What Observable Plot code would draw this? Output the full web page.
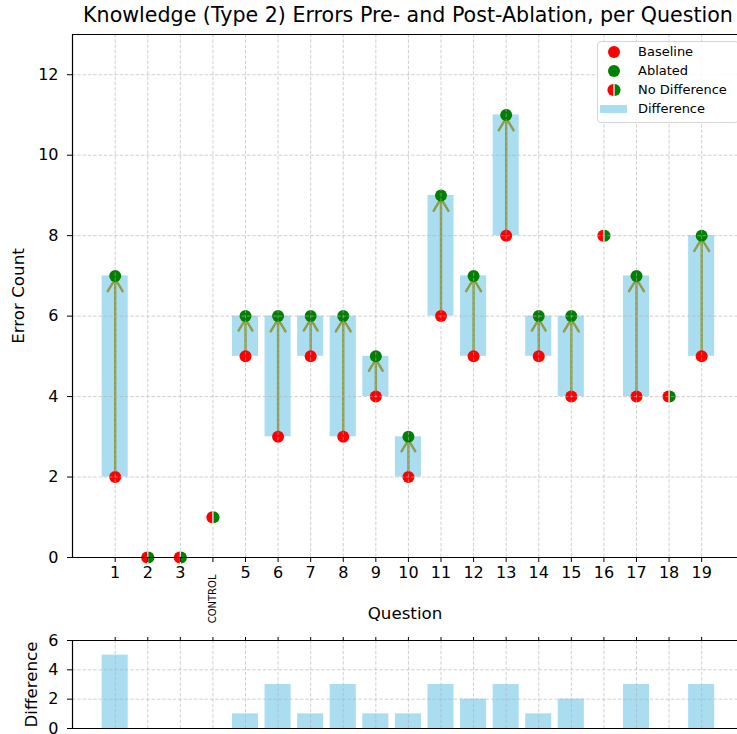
<!DOCTYPE html>
<html><head><meta charset="utf-8">
<script src="https://cdn.jsdelivr.net/npm/d3@7"></script>
<script src="https://cdn.jsdelivr.net/npm/@observablehq/plot@0.6"></script>
<style>
body{margin:0;background:#fff;font-family:"DejaVu Sans",sans-serif;color:#000;}
#wrap{position:relative;width:737px;height:734px;overflow:hidden;background:#fff;}
#title{position:absolute;top:5px;left:408px;transform:translateX(-50%);white-space:nowrap;font-size:20.6px;line-height:21px;}
#main{position:absolute;left:0;top:0;}
#bottom{position:absolute;left:0;top:630px;}
#legend{position:absolute;left:597px;top:41px;width:140px;height:80px;border:1px solid #d6d6d6;border-radius:4px;background:rgba(255,255,255,0.85);font-size:13px;}
.lg{position:absolute;left:0;width:140px;height:18px;}
.lg svg{position:absolute;left:0;top:0;}
.lg span{position:absolute;left:40px;top:0;line-height:18px;white-space:nowrap;}
</style></head><body>
<div id="wrap">
  <div id="main"></div>
  <div id="bottom"></div>
  <div id="title">Knowledge (Type 2) Errors Pre- and Post-Ablation, per Question</div>
  <div id="legend"></div>
</div>
<script>
// ---- data ----
const questions = [1,2,3,4,5,6,7,8,9,10,11,12,13,14,15,16,17,18,19];
const tickLabels = ["1","2","3","CONTROL","5","6","7","8","9","10","11","12","13","14","15","16","17","18","19"];
const baseline = [2,0,0,1,5,3,5,3,4,2,6,5,8,5,4,8,4,4,5];
const ablated  = [7,0,0,1,6,6,6,6,5,3,9,7,11,6,6,8,7,4,8];
const differences = [5,0,0,0,1,3,1,3,1,1,3,2,3,1,2,0,3,0,3];
const yTicksMain = [0,2,4,6,8,10,12];
const yTicksDiff = [0,2,4,6];
const legendLabels = ["Baseline","Ablated","No Difference","Difference"];

const rows = questions.map((q,i)=>({q, label: tickLabels[i], base: baseline[i], abl: ablated[i], diff: differences[i]}));
const changed = rows.filter(d=>d.abl!==d.base);
const same = rows.filter(d=>d.abl===d.base);

const xDomain = [-0.31, 20.1];
const barFill = "#87ceeb", barOpacity = 0.7;
const gridStyle = {stroke:"#b0b0b0", strokeOpacity:0.75, strokeWidth:0.8, strokeDasharray:"3.5,1.8"};
const spine = {stroke:"#000", strokeWidth:1.2};

const leftHalf = {draw(ctx, size){ const r=Math.sqrt(size/Math.PI); ctx.moveTo(-0.6,-r); ctx.arc(-0.6,0,r,-Math.PI/2,Math.PI/2,true); ctx.closePath(); }};
const rightHalf = {draw(ctx, size){ const r=Math.sqrt(size/Math.PI); ctx.moveTo(0.6,-r); ctx.arc(0.6,0,r,-Math.PI/2,Math.PI/2,false); ctx.closePath(); }};

const main = Plot.plot({
  width: 737, height: 630,
  marginLeft: 72, marginRight: 0, marginTop: 34, marginBottom: 73,
  x: {domain: xDomain},
  y: {domain: [0,13]},
  style: {fontFamily: "DejaVu Sans", fontSize: "16px", color: "#000", background: "transparent"},
  marks: [
    Plot.rect(changed, {x1: d=>d.q-0.4, x2: d=>d.q+0.4, y1: "base", y2: "abl", fill: barFill, fillOpacity: barOpacity}),
    Plot.arrow(changed, {x1: "q", x2: "q", y1: "base", y2: "abl", stroke: "olive", strokeOpacity: 0.7, strokeWidth: 2.4, headLength: 9, headAngle: 62, insetEnd: 3}),
    Plot.dot(changed, {x: "q", y: "base", r: 6, fill: "red"}),
    Plot.dot(changed, {x: "q", y: "abl", r: 6, fill: "green"}),
    Plot.dot(same, {x: "q", y: "base", r: 6, fill: "red", symbol: leftHalf}),
    Plot.dot(same, {x: "q", y: "abl", r: 6, fill: "green", symbol: rightHalf}),
    Plot.gridX(questions, gridStyle),
    Plot.gridY(yTicksMain, gridStyle),
    Plot.ruleY([0, 13], spine),
    Plot.ruleX([xDomain[0]], spine),
    Plot.axisX(questions, {tickSize: 5, tickPadding: 4, tickFormat: d => d === 4 ? "" : String(d), fontSize: 16, label: null}),
    Plot.axisY(yTicksMain, {tickSize: 5, tickPadding: 9, fontSize: 16, label: null}),
    Plot.text(rows.filter(d=>d.label==="CONTROL"), {x: "q", text: "label", frameAnchor: "bottom", dy: 17, rotate: -90, textAnchor: "end", lineAnchor: "middle", fontSize: 10}),
    Plot.text(["Question"], {frameAnchor: "bottom", dy: 56, lineAnchor: "middle", fontSize: 16.7}),
    Plot.text(["Error Count"], {frameAnchor: "left", dx: -54, rotate: -90, textAnchor: "middle", lineAnchor: "middle", fontSize: 16.7})
  ]
});
document.getElementById("main").appendChild(main);

const bottom = Plot.plot({
  width: 737, height: 104,
  marginLeft: 72, marginRight: 0, marginTop: 10, marginBottom: 6,
  x: {domain: xDomain},
  y: {domain: [0,6]},
  style: {fontFamily: "DejaVu Sans", fontSize: "16px", color: "#000", background: "transparent"},
  marks: [
    Plot.rectY(rows, {x1: d=>d.q-0.4, x2: d=>d.q+0.4, y: "diff", fill: barFill, fillOpacity: barOpacity}),
    Plot.gridX(questions, gridStyle),
    Plot.gridY(yTicksDiff, gridStyle),
    Plot.ruleY([0, 6], spine),
    Plot.ruleX([xDomain[0]], spine),
    Plot.axisX(questions, {anchor: "top", tickSize: 4, tickFormat: () => "", label: null}),
    Plot.axisY(yTicksDiff, {tickSize: 5, tickPadding: 9, fontSize: 16, label: null}),
    Plot.text(["Difference"], {frameAnchor: "left", dx: -41, rotate: -90, textAnchor: "middle", lineAnchor: "middle", fontSize: 16.7})
  ]
});
document.getElementById("bottom").appendChild(bottom);

// legend
const legend = document.getElementById("legend");
const icons = [
  `<circle cx="16" cy="9" r="6" fill="red"/>`,
  `<circle cx="16" cy="9" r="6" fill="green"/>`,
  `<path d="M15.4,3 A6,6 0 0,0 15.4,15 Z" fill="red"/><path d="M16.6,3 A6,6 0 0,1 16.6,15 Z" fill="green"/>`,
  `<rect x="2" y="5" width="27" height="8" fill="${barFill}" fill-opacity="${barOpacity}"/>`
];
const rowTops = [1, 20, 38.5, 58];
legendLabels.forEach((lab,i)=>{
  const div = document.createElement("div");
  div.className = "lg";
  div.style.top = rowTops[i] + "px";
  div.innerHTML = `<svg width="36" height="18">${icons[i]}</svg><span>${lab}</span>`;
  legend.appendChild(div);
});
</script>
</body></html>
